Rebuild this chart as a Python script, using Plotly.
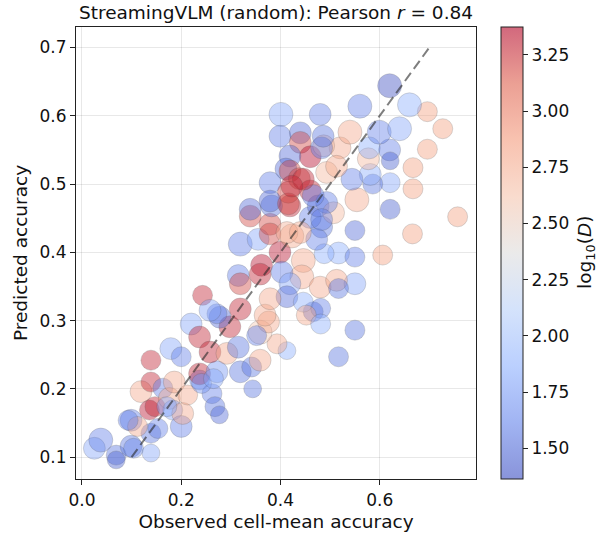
import numpy as np
import plotly.graph_objects as go

# ---- data ----
observed = [
    0.025, 0.038, 0.069, 0.069, 0.099, 0.104, 0.139, 0.139, 0.153, 0.099,
    0.112, 0.119, 0.139, 0.139, 0.136, 0.147, 0.163, 0.176, 0.186, 0.183,
    0.200, 0.203, 0.213, 0.237, 0.237, 0.179, 0.200, 0.220, 0.237, 0.243,
    0.272, 0.262, 0.241, 0.268, 0.277, 0.258, 0.292, 0.315, 0.319, 0.342,
    0.344, 0.359, 0.413, 0.393, 0.359, 0.376, 0.352, 0.298, 0.319, 0.278,
    0.272, 0.258, 0.369, 0.265, 0.315, 0.319, 0.319, 0.355, 0.362, 0.359,
    0.399, 0.379, 0.379, 0.339, 0.339, 0.419, 0.382, 0.423, 0.413, 0.446,
    0.443, 0.403, 0.419, 0.413, 0.379, 0.466, 0.446, 0.480, 0.483, 0.460,
    0.476, 0.481, 0.452, 0.481, 0.517, 0.550, 0.550, 0.513, 0.517, 0.517,
    0.550, 0.550, 0.488, 0.606, 0.666, 0.757, 0.621, 0.507, 0.554, 0.667,
    0.621, 0.586, 0.581, 0.544, 0.667, 0.577, 0.579, 0.620, 0.621, 0.696,
    0.520, 0.540, 0.599, 0.640, 0.727, 0.696, 0.660, 0.560, 0.620, 0.480,
    0.401, 0.399, 0.440, 0.440, 0.460, 0.419, 0.411, 0.419, 0.438, 0.379,
    0.460, 0.416, 0.379, 0.416, 0.487, 0.493, 0.483, 0.486, 0.493, 0.513,
    0.466, 0.446, 0.423, 0.473, 0.440, 0.483, 0.171, 0.093,
]
predicted = [
    0.113, 0.125, 0.103, 0.096, 0.116, 0.113, 0.106, 0.135, 0.142, 0.154,
    0.145, 0.196, 0.242, 0.210, 0.169, 0.174, 0.201, 0.186, 0.210, 0.169,
    0.145, 0.164, 0.191, 0.213, 0.222, 0.259, 0.247, 0.295, 0.276, 0.337,
    0.225, 0.193, 0.208, 0.174, 0.162, 0.254, 0.252, 0.261, 0.225, 0.232,
    0.200, 0.242, 0.256, 0.266, 0.283, 0.298, 0.278, 0.291, 0.317, 0.305,
    0.310, 0.315, 0.308, 0.215, 0.366, 0.354, 0.412, 0.419, 0.381, 0.368,
    0.400, 0.441, 0.427, 0.453, 0.463, 0.468, 0.468, 0.424, 0.429, 0.388,
    0.364, 0.371, 0.354, 0.335, 0.332, 0.313, 0.327, 0.349, 0.437, 0.451,
    0.468, 0.318, 0.308, 0.295, 0.247, 0.286, 0.354, 0.359, 0.347, 0.399,
    0.393, 0.432, 0.398, 0.396, 0.427, 0.452, 0.463, 0.458, 0.477, 0.493,
    0.502, 0.500, 0.514, 0.507, 0.524, 0.537, 0.553, 0.550, 0.534, 0.551,
    0.553, 0.576, 0.576, 0.581, 0.581, 0.606, 0.616, 0.614, 0.644, 0.602,
    0.602, 0.570, 0.575, 0.561, 0.540, 0.541, 0.522, 0.519, 0.508, 0.502,
    0.490, 0.488, 0.475, 0.471, 0.556, 0.517, 0.553, 0.570, 0.473, 0.526,
    0.483, 0.507, 0.497, 0.419, 0.429, 0.448, 0.174, 0.154,
]
log10_D = [
    1.80, 1.60, 1.55, 1.45, 1.55, 1.65, 1.80, 1.55, 1.60, 1.60,
    2.80, 2.80, 3.30, 3.30, 3.35, 3.30, 1.60, 2.80, 2.80, 1.80,
    1.60, 2.80, 2.80, 1.60, 3.30, 1.80, 1.60, 1.80, 3.30, 3.30,
    1.70, 1.60, 1.70, 1.55, 1.50, 3.30, 2.80, 1.55, 1.55, 1.55,
    1.55, 2.80, 1.85, 2.80, 2.60, 2.80, 1.60, 3.30, 3.30, 1.50,
    1.60, 1.80, 2.80, 1.80, 1.60, 3.20, 1.60, 1.80, 3.35, 3.30,
    3.35, 3.20, 3.20, 3.20, 1.50, 3.30, 1.55, 2.80, 2.75, 2.80,
    2.80, 1.60, 1.80, 1.50, 2.80, 1.50, 1.85, 2.80, 1.55, 1.60,
    1.50, 1.60, 2.80, 1.85, 1.55, 1.55, 1.80, 2.80, 1.55, 1.85,
    1.60, 1.50, 1.85, 2.85, 2.85, 2.85, 1.45, 2.70, 2.80, 2.85,
    1.80, 1.55, 1.85, 1.60, 2.85, 2.70, 1.85, 1.60, 1.45, 2.85,
    2.80, 2.80, 1.60, 1.80, 2.85, 2.85, 1.85, 1.60, 1.363, 1.60,
    1.80, 1.60, 1.50, 3.20, 3.374, 1.50, 1.50, 3.20, 3.20, 1.60,
    3.30, 3.20, 1.50, 3.20, 2.70, 2.70, 1.60, 1.55, 1.60, 2.80,
    1.60, 3.30, 3.30, 1.60, 2.80, 1.60, 1.80, 1.60,
]
cell_n = [
    30, 36, 25, 20, 30, 25, 20, 25, 25, 30,
    25, 30, 25, 25, 25, 25, 25, 30, 30, 25,
    30, 30, 25, 25, 30, 30, 25, 30, 30, 25,
    30, 25, 25, 25, 20, 30, 30, 30, 30, 25,
    20, 30, 20, 25, 36, 30, 25, 30, 30, 30,
    25, 30, 30, 25, 30, 30, 36, 30, 30, 30,
    30, 30, 30, 30, 30, 30, 30, 36, 30, 36,
    36, 30, 30, 30, 30, 25, 25, 30, 30, 30,
    30, 25, 25, 25, 25, 25, 30, 30, 25, 30,
    25, 25, 25, 25, 25, 25, 25, 30, 36, 25,
    25, 25, 30, 30, 25, 30, 30, 30, 20, 25,
    30, 36, 36, 36, 25, 25, 36, 36, 36, 30,
    36, 30, 30, 30, 30, 30, 30, 30, 30, 30,
    30, 30, 30, 30, 30, 30, 30, 30, 30, 30,
    30, 30, 30, 30, 30, 30, 25, 25,
]
pearson_r = 0.84
x_ticks = [0.0, 0.2, 0.4, 0.6]
y_ticks = [0.1, 0.2, 0.3, 0.4, 0.5, 0.6, 0.7]
cb_ticks = [1.50, 1.75, 2.00, 2.25, 2.50, 2.75, 3.00, 3.25]
diag = [0.1, 0.7]

# ---- style ----
FONT = "DejaVu Sans"
A = 0.6
coolwarm = [
    (0.0, (58, 76, 193)), (0.125, (98, 130, 234)), (0.25, (141, 176, 254)),
    (0.375, (184, 208, 249)), (0.5, (221, 220, 220)), (0.625, (245, 196, 173)),
    (0.75, (244, 154, 123)), (0.875, (222, 96, 77)), (1.0, (180, 4, 38)),
]
cscale = [[p, f"rgba({r},{g},{b},{A})"] for p, (r, g, b) in coolwarm]

sizes = (np.sqrt(np.array(cell_n, dtype=float)) * 4.0).tolist()

TICK = 17
LAB = 18.5

fig = go.Figure()
fig.add_trace(go.Scatter(
    x=observed, y=predicted, mode="markers",
    marker=dict(
        size=sizes, color=log10_D, colorscale=cscale,
        cmin=min(log10_D), cmax=max(log10_D),
        line=dict(color="rgba(70,70,70,0.35)", width=0.8),
        colorbar=dict(
            x=1.0625, xanchor="left", y=0.5, yanchor="middle",
            len=1.0, lenmode="fraction", thickness=22, thicknessmode="pixels",
            xpad=0, ypad=0, outlinewidth=1, outlinecolor="#222",
            tickvals=cb_ticks, tickformat=".2f", ticks="outside", ticklen=5,
            tickcolor="#222", tickfont=dict(family=FONT, size=TICK, color="#111"),
        ),
    ),
    showlegend=False, hoverinfo="skip",
))
fig.add_trace(go.Scatter(
    x=diag, y=diag, mode="lines",
    line=dict(color="rgba(40,40,40,0.6)", width=2, dash="10px,5px"),
    showlegend=False, hoverinfo="skip",
))

axis_common = dict(
    showline=True, mirror=True, linecolor="#222", linewidth=1.2,
    ticks="outside", ticklen=5, tickcolor="#222", tickwidth=1,
    showgrid=True, gridcolor="rgba(0,0,0,0.09)", gridwidth=1,
    zeroline=False, tickfont=dict(family=FONT, size=TICK, color="#111"),
)
fig.update_xaxes(range=[-0.012, 0.794], tickvals=x_ticks, tickformat=".1f",
                 title=dict(text="Observed cell-mean accuracy",
                            font=dict(family=FONT, size=LAB, color="#111"), standoff=6),
                 **axis_common)
fig.update_yaxes(range=[0.068, 0.730], tickvals=y_ticks, tickformat=".1f",
                 title=dict(text="Predicted accuracy",
                            font=dict(family=FONT, size=LAB, color="#111"), standoff=6),
                 **axis_common)

# colorbar label, placed to the right of the tick labels
fig.add_annotation(
    text="log<sub>10</sub>(<i>D</i>)", textangle=-90,
    x=1.275, xref="paper", xanchor="center",
    y=0.5, yref="paper", yanchor="middle",
    showarrow=False, font=dict(family=FONT, size=LAB, color="#111"),
)

fig.update_layout(
    width=598, height=540,
    margin=dict(l=76, r=122, t=27, b=59),
    paper_bgcolor="white", plot_bgcolor="white",
    font=dict(family=FONT, color="#111"),
    title=dict(text=f"StreamingVLM (random): Pearson <i>r</i> = {pearson_r:.2f}",
               x=0.5, xref="paper", xanchor="center",
               y=1 - 13 / 540, yref="container", yanchor="middle",
               font=dict(family=FONT, size=LAB, color="#111")),
)

fig.write_html("out.html")
